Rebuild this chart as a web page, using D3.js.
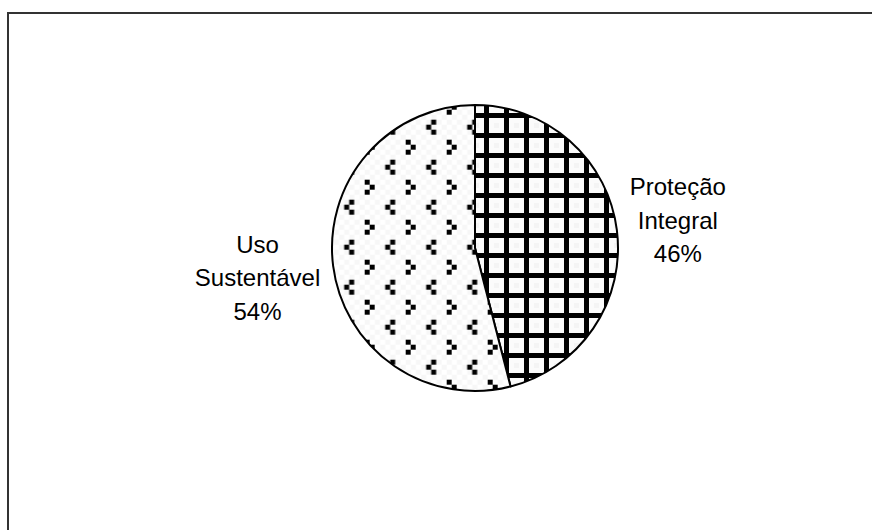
<!DOCTYPE html>
<html>
<head>
<meta charset="utf-8">
<script src="https://cdn.jsdelivr.net/npm/d3@7"></script>
<style>
  html, body { margin: 0; padding: 0; background: #fff; }
  svg { display: block; }
</style>
</head>
<body>
<div id="chart"></div>
<script>
// dados
const categories = ['Proteção Integral', 'Uso Sustentável'];
const values = [46, 54];
const percentLabels = ['46%', '54%'];

const width = 872, height = 530;
const cx = 475, cy = 248, radius = 143;

const svg = d3.select('#chart')
  .append('svg')
  .attr('width', width)
  .attr('height', height);

const defs = svg.append('defs');

// padrão grade (Proteção Integral)
const grid = defs.append('pattern')
  .attr('id', 'grade')
  .attr('patternUnits', 'userSpaceOnUse')
  .attr('x', 9).attr('y', 5)
  .attr('width', 20).attr('height', 20);
grid.append('rect').attr('width', 20).attr('height', 20).attr('fill', '#fbfbfb');
grid.append('rect').attr('x', 10).attr('y', 10).attr('width', 5).attr('height', 5).attr('fill', '#f4f4f4');
grid.append('rect').attr('x', 0).attr('y', 0).attr('width', 5).attr('height', 20).attr('fill', '#000');
grid.append('rect').attr('x', 0).attr('y', 0).attr('width', 20).attr('height', 5).attr('fill', '#000');

// padrão de "< >" (Uso Sustentável)
const dots = defs.append('pattern')
  .attr('id', 'pontos')
  .attr('patternUnits', 'userSpaceOnUse')
  .attr('x', 12.7).attr('y', 11.7)
  .attr('width', 41).attr('height', 40);
dots.append('rect').attr('width', 41).attr('height', 40).attr('fill', '#fff');
// fundo quadriculado bem claro
for (let i = 0; i < 8; i++) {
  for (let j = 0; j < 8; j++) {
    if ((i + j) % 2 === 0) {
      dots.append('rect')
        .attr('x', i * 5.125).attr('y', j * 5)
        .attr('width', 5.125).attr('height', 5)
        .attr('fill', '#f7f7f7');
    }
  }
}
const sq = 5;
// ">"
[[0, 0], [sq, sq], [0, 2 * sq]].forEach(([x, y]) =>
  dots.append('rect').attr('x', x).attr('y', y).attr('width', sq).attr('height', sq).attr('fill', '#000'));
// "<"
[[sq, 0], [0, sq], [sq, 2 * sq]].forEach(([x, y]) =>
  dots.append('rect').attr('x', 20.5 + x).attr('y', 20 + y).attr('width', sq).attr('height', sq).attr('fill', '#000'));

const fills = ['url(#grade)', 'url(#pontos)'];

// moldura
svg.append('rect')
  .attr('x', 8).attr('y', 13)
  .attr('width', 900).attr('height', 600)
  .attr('fill', 'none')
  .attr('stroke', '#333')
  .attr('stroke-width', 2);

const pie = d3.pie().sort(null).value(d => d)(values);
const arc = d3.arc().innerRadius(0).outerRadius(radius);

const g = svg.append('g').attr('transform', `translate(${cx},${cy})`);

g.selectAll('path')
  .data(pie)
  .enter()
  .append('path')
  .attr('d', arc)
  .attr('fill', (d, i) => fills[i])
  .attr('stroke', '#000')
  .attr('stroke-width', 2)
  .attr('stroke-linejoin', 'round');

// rótulos
const lineH = 33.5;
pie.forEach((d, i) => {
  const a = (d.startAngle + d.endAngle) / 2;
  const sx = Math.sin(a), sy = -Math.cos(a);
  const lines = categories[i].split(' ').concat([percentLabels[i]]);
  const t = g.append('text')
    .attr('font-family', '"Liberation Sans", Arial, sans-serif')
    .attr('font-size', 24)
    .attr('fill', '#000')
    .attr('text-anchor', 'middle');
  lines.forEach((s, k) => {
    t.append('tspan').attr('x', 0).attr('y', k * lineH).text(s);
  });
  const bb = t.node().getBBox();
  const hw = bb.width / 2;
  const bx = sx * (radius + 13) + Math.sign(sx) * hw;
  const by = sy * 228;
  // centro vertical do bloco
  const blockMid = bb.y + bb.height / 2;
  t.attr('transform', `translate(${bx},${by - blockMid + 1})`);
});
</script>
</body>
</html>
